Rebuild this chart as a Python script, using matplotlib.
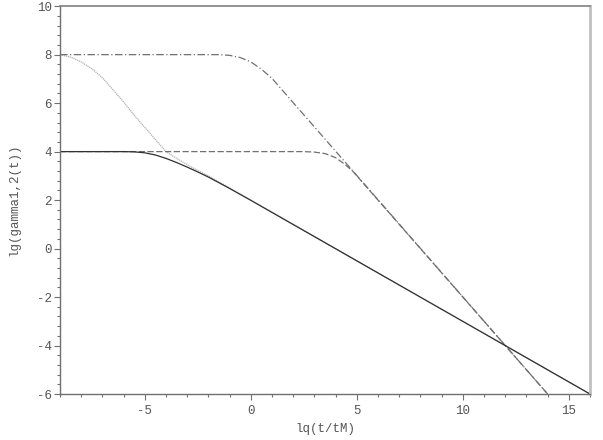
import numpy as np
import matplotlib
matplotlib.use("Agg")
import matplotlib.pyplot as plt
from matplotlib.ticker import MultipleLocator

plt.rcParams['font.family'] = ['Liberation Mono', 'DejaVu Sans Mono']
plt.rcParams['axes.unicode_minus'] = False

# curves (lg t/tM, lg gamma)
solid_x = [-9, -6, -5.5, -5, -4.5, -4, -3.5, -3, -2.5, -2, -1, 0, 16]
solid_y = [4, 4, 3.99, 3.95, 3.86, 3.72, 3.55, 3.36, 3.16, 2.95, 2.48, 1.99, -6]

dashdot_x = [-9, -1.5, -1, -0.5, 0, 0.5, 1, 1.5, 14]
dashdot_y = [8, 8, 7.97, 7.88, 7.7, 7.4, 7.02, 6.52, -6]

dashed_x = [-9, 2.5, 3, 3.5, 4, 4.4, 4.8, 5.5, 14]
dashed_y = [4, 4, 3.98, 3.92, 3.75, 3.5, 3.2, 2.5, -6]

dotted_x = [-9, -8.5, -8, -7.5, -7, -6.5, -6, -5.5, -5, -4.5, -4, -3.5, -3, -2.5, -2, -1, 16]
dotted_y = [8, 7.9, 7.7, 7.42, 7.05, 6.55, 6.05, 5.5, 5.0, 4.5, 4.0, 3.72, 3.46, 3.22, 3.0, 2.5, -6]

xticks = [-5, 0, 5, 10, 15]
yticks = [-6, -4, -2, 0, 2, 4, 6, 8, 10]

fig = plt.figure(figsize=(6.03, 4.40), dpi=100)
ax = fig.add_axes([0.0995, 0.1045, 0.879, 0.8815])

ax.plot(dotted_x, dotted_y, color='#b0b0b0', lw=0.9, linestyle=(0, (1, 0.6)))
ax.plot(dashed_x, dashed_y, color='#707070', lw=0.9, linestyle=(0, (5, 2)))
ax.plot(dashdot_x, dashdot_y, color='#707070', lw=0.9, linestyle=(0, (6, 2, 1, 2)))
ax.plot(solid_x, solid_y, color='#303030', lw=0.9)

ax.set_xlim(-9, 16)
ax.set_ylim(-6, 10)
ax.set_xticks(xticks)
ax.set_yticks(yticks)
ax.xaxis.set_minor_locator(MultipleLocator(1))
ax.yaxis.set_minor_locator(MultipleLocator(0.4))

for s in ['left', 'bottom']:
    ax.spines[s].set_color('#707070')
    ax.spines[s].set_linewidth(1.0)
ax.spines['top'].set_color('#808080')
ax.spines['top'].set_linewidth(1.2)
ax.spines['right'].set_color('#c0c0c0')
ax.spines['right'].set_linewidth(2.0)

ax.tick_params(which='major', direction='out', length=4, width=0.8, color='#707070',
               labelsize=9, labelcolor='#555555')
ax.tick_params(which='minor', direction='out', length=2.5, width=0.8, color='#707070')
ax.tick_params(axis='x', pad=4)
ax.tick_params(axis='y', pad=2)

ax.set_xlabel('lq(t/tM)', fontsize=9, color='#555555', labelpad=4)
ax.set_ylabel('lg(gamma1,2(t))', fontsize=9, color='#555555', labelpad=12)

fig.savefig('out.png', dpi=100)
